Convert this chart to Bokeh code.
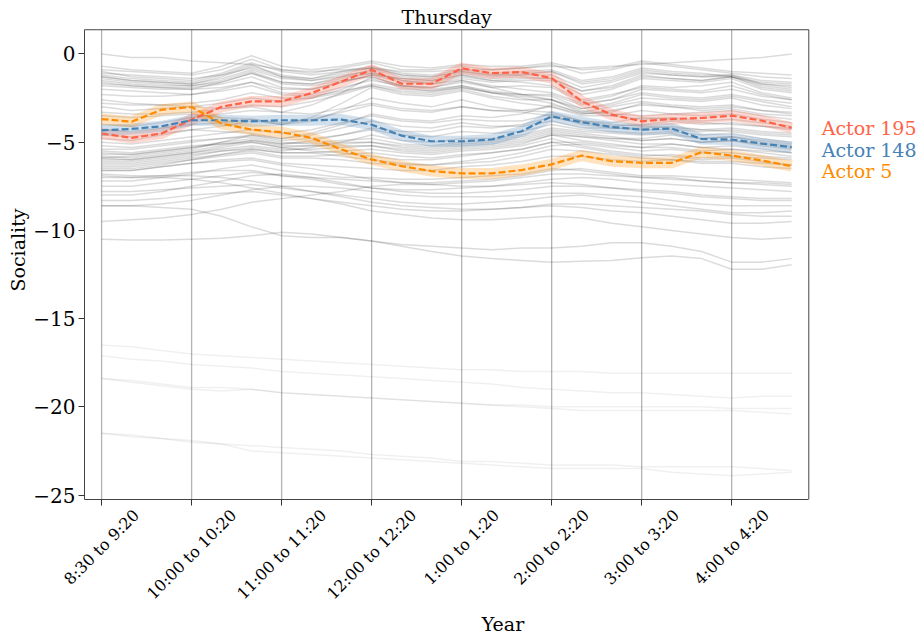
import math
from bokeh.plotting import figure
from bokeh.models import Range1d, FixedTicker, Label, LinearAxis
from bokeh.embed import file_html
from bokeh.resources import INLINE

# ---------------- data ----------------
slots = list(range(24))
tick_pos = [0, 3, 6, 9, 12, 15, 18, 21]
tick_labels = ["8:30 to 9:20", "10:00 to 10:20", "11:00 to 11:20", "12:00 to 12:20",
               "1:00 to 1:20", "2:00 to 2:20", "3:00 to 3:20", "4:00 to 4:20"]
y_ticks = [0, -5, -10, -15, -20, -25]
y_tick_labels = ["0", "−5", "−10", "−15", "−20", "−25"]

actor_names = ["Actor 195", "Actor 148", "Actor 5"]
actor_colors = ["#FF6347", "#4682B4", "#FF8C00"]
label_y = [-4.2, -5.45, -6.65]

actor_195 = [-4.51, -4.76, -4.51, -3.72, -3.0, -2.69, -2.69, -2.22, -1.56, -0.90, -1.69, -1.69,
             -0.81, -1.09, -1.03, -1.37, -2.69, -3.44, -3.82, -3.69, -3.63, -3.50, -3.78, -4.19]
actor_148 = [-4.33, -4.25, -4.10, -3.76, -3.76, -3.82, -3.76, -3.76, -3.72, -4.01, -4.63, -4.95,
             -4.95, -4.85, -4.38, -3.54, -3.87, -4.14, -4.29, -4.23, -4.82, -4.85, -5.08, -5.29]
actor_5 = [-3.69, -3.84, -3.16, -3.01, -3.95, -4.29, -4.44, -4.76, -5.42, -5.98, -6.36, -6.64,
           -6.77, -6.77, -6.58, -6.26, -5.76, -6.08, -6.17, -6.17, -5.57, -5.76, -6.04, -6.36]

upper_actors = [
    [-0.9,-1.0,-1.1,-1.2,-0.9,-0.3,-0.9,-1.1,-0.8,-0.5,-0.9,-0.9,-0.7,-0.9,-0.8,-0.6,-1.1,-0.9,-0.5,-0.7,-0.9,-1.1,-1.3,-1.4],
    [-1.2,-1.4,-1.5,-1.6,-1.2,-0.6,-1.3,-1.4,-1.0,-0.7,-1.1,-1.2,-0.9,-1.1,-1.0,-0.9,-1.5,-1.3,-0.8,-1.0,-1.1,-1.3,-1.6,-1.7],
    [-1.4,-1.6,-1.7,-1.8,-1.5,-1.0,-1.6,-1.7,-1.3,-0.9,-1.3,-1.4,-1.1,-1.3,-1.2,-1.2,-1.9,-1.6,-1.1,-1.2,-1.3,-1.3,-1.8,-2.0],
    [-0.7,-0.9,-1.0,-1.1,-0.7,-0.1,-0.7,-0.9,-0.7,-0.4,-0.7,-0.8,-0.6,-0.7,-0.7,-0.5,-0.9,-0.8,-0.4,-0.6,-0.8,-1.0,-1.1,-1.2],
    [-1.6,-1.8,-1.9,-1.9,-1.7,-1.3,-1.9,-2.0,-1.6,-1.2,-1.6,-1.7,-1.4,-1.6,-1.5,-1.5,-2.3,-2.0,-1.4,-1.5,-1.6,-1.4,-2.0,-2.2],
    [-1.0,-1.3,-1.4,-1.5,-1.1,-0.5,-1.0,-1.2,-1.0,-0.8,-1.2,-1.3,-1.0,-1.2,-1.2,-1.0,-1.6,-1.4,-0.9,-1.1,-1.2,-1.2,-1.5,-1.6],
    [-1.8,-1.9,-2.0,-2.0,-1.9,-1.6,-2.2,-2.3,-1.9,-1.5,-1.8,-1.9,-1.6,-1.9,-1.8,-1.9,-2.7,-2.4,-1.8,-1.9,-1.8,-1.6,-2.2,-2.5],
    [-1.3,-1.5,-1.6,-1.7,-1.4,-0.9,-1.4,-1.5,-1.2,-1.0,-1.5,-1.7,-1.5,-1.9,-2.3,-2.6,-3.3,-3.0,-2.7,-2.9,-3.0,-2.9,-3.2,-3.4],
    [0.0,-0.2,-0.2,-0.4,-0.5,-0.6,-0.9,-1.0,-0.9,-0.8,-1.0,-1.0,-0.9,-0.9,-0.8,-0.7,-0.8,-0.7,-0.6,-0.5,-0.4,-0.3,-0.2,0.0],
    [-2.3,-2.4,-2.4,-2.3,-2.0,-1.6,-2.0,-2.0,-1.6,-1.2,-1.4,-1.5,-1.2,-1.4,-1.3,-1.4,-2.1,-1.8,-1.2,-1.4,-1.5,-1.3,-1.7,-1.8],
    [-1.1,-1.2,-1.3,-1.4,-1.2,-0.8,-1.3,-1.5,-1.3,-1.1,-1.4,-1.5,-1.2,-1.5,-1.6,-1.8,-2.6,-2.3,-1.9,-2.0,-2.1,-1.8,-2.3,-2.6],
    [-1.5,-1.7,-1.8,-1.8,-1.6,-1.1,-1.7,-1.8,-1.5,-1.3,-1.8,-2.0,-1.8,-2.1,-2.3,-2.4,-3.1,-2.8,-2.3,-2.5,-2.6,-2.4,-2.7,-3.0],
    [-1.3,-1.5,-1.6,-1.7,-1.3,-0.7,-1.2,-1.4,-1.1,-0.8,-1.2,-1.3,-1.0,-1.2,-1.1,-1.0,-1.7,-1.5,-1.0,-1.2,-1.3,-1.2,-1.7,-1.9],
    [-1.7,-1.8,-1.9,-2.0,-1.6,-1.1,-1.6,-1.7,-1.4,-1.1,-1.5,-1.6,-1.3,-1.5,-1.4,-1.4,-2.1,-1.9,-1.3,-1.4,-1.5,-1.3,-1.9,-2.1],
    [-2.0,-2.1,-2.2,-2.3,-2.1,-1.8,-2.3,-2.4,-2.1,-1.8,-2.1,-2.2,-1.9,-2.2,-2.3,-2.3,-2.9,-2.6,-2.0,-2.1,-2.2,-2.0,-2.4,-2.6],
    [-3.3,-3.4,-3.4,-3.3,-3.1,-2.9,-3.0,-2.7,-2.3,-1.8,-2.2,-2.3,-2.0,-2.4,-2.6,-2.6,-3.1,-2.9,-2.5,-2.6,-2.7,-2.5,-2.9,-3.1],
    [-2.8,-2.9,-2.9,-2.8,-2.6,-2.2,-2.5,-2.5,-2.2,-1.7,-2.0,-2.1,-1.9,-2.2,-2.4,-2.6,-3.2,-3.4,-3.5,-3.4,-3.3,-3.2,-3.5,-3.7],
]

middle_actors = [
    [-3.0,-3.2,-3.1,-3.0,-2.8,-2.5,-2.7,-2.5,-2.0,-1.4,-1.9,-2.1,-1.8,-2.2,-2.5,-2.8,-3.4,-3.2,-2.9,-3.0,-3.1,-3.0,-3.2,-3.3],
    [-4.0,-4.1,-3.9,-3.6,-3.4,-3.2,-3.3,-2.9,-2.2,-1.3,-1.8,-1.9,-1.5,-1.8,-2.0,-2.2,-2.8,-2.6,-2.2,-2.4,-2.5,-2.3,-2.6,-2.8],
    [-2.6,-2.8,-2.9,-3.0,-3.1,-3.0,-3.3,-3.4,-3.1,-2.8,-3.1,-3.2,-3.0,-3.2,-3.2,-3.0,-3.4,-3.3,-2.8,-3.0,-3.2,-3.1,-3.4,-3.5],
    [-3.5,-3.6,-3.5,-3.4,-3.6,-3.7,-4.0,-3.8,-3.2,-2.5,-2.8,-3.0,-2.6,-3.0,-3.2,-3.3,-3.8,-3.9,-3.6,-3.7,-3.9,-4.0,-4.1,-4.2],
    [-4.8,-4.9,-4.6,-4.3,-4.1,-3.8,-4.0,-3.6,-2.8,-1.9,-2.3,-2.4,-2.1,-2.5,-2.8,-3.0,-3.5,-3.5,-3.2,-3.4,-3.5,-3.4,-3.7,-3.9],
    [-4.3,-4.4,-4.2,-4.0,-3.9,-3.7,-3.9,-3.7,-3.3,-2.9,-3.2,-3.3,-3.0,-3.2,-3.3,-3.5,-4.0,-4.2,-4.3,-4.3,-4.4,-4.3,-4.5,-4.6],
    [-5.0,-5.1,-4.9,-4.7,-4.5,-4.3,-4.5,-4.3,-3.9,-3.5,-3.8,-3.9,-3.7,-3.8,-3.8,-3.4,-3.8,-4.0,-4.1,-4.2,-4.3,-4.4,-4.6,-4.7],
    [-5.4,-5.4,-5.2,-5.0,-4.8,-4.6,-4.9,-4.8,-4.6,-4.3,-4.6,-4.7,-4.4,-4.5,-4.4,-4.0,-4.3,-4.4,-4.5,-4.4,-4.6,-4.5,-4.8,-5.0],
    [-5.7,-5.7,-5.5,-5.3,-5.0,-4.8,-5.1,-5.0,-4.9,-4.8,-5.1,-5.2,-5.0,-4.9,-4.7,-4.3,-4.5,-4.7,-4.9,-4.8,-5.0,-4.9,-5.1,-5.3],
    [-6.0,-6.0,-5.8,-5.6,-5.3,-5.0,-5.3,-5.2,-5.2,-5.2,-5.5,-5.6,-5.4,-5.3,-5.1,-4.6,-4.7,-4.9,-5.1,-5.1,-5.3,-5.2,-5.4,-5.6],
    [-6.2,-6.2,-6.0,-5.8,-5.5,-5.3,-5.5,-5.3,-5.0,-4.6,-4.9,-5.0,-4.8,-4.8,-4.6,-4.2,-4.4,-4.5,-4.6,-4.5,-4.8,-4.7,-5.0,-5.2],
    [-5.5,-5.6,-5.4,-5.2,-5.1,-5.0,-5.3,-5.5,-5.6,-5.8,-6.0,-6.0,-5.8,-5.6,-5.4,-5.0,-5.0,-5.2,-5.3,-5.1,-5.3,-5.4,-5.5,-5.6],
    [-6.4,-6.4,-6.2,-6.0,-5.8,-5.6,-5.9,-5.9,-6.0,-6.2,-6.3,-6.3,-6.1,-5.9,-5.6,-5.2,-5.1,-5.3,-5.5,-5.4,-5.6,-5.6,-5.8,-5.9],
    [-5.9,-5.8,-5.6,-5.4,-5.0,-4.6,-4.8,-4.5,-4.0,-3.4,-3.7,-3.8,-3.5,-3.6,-3.4,-2.9,-3.3,-3.5,-3.7,-3.6,-3.8,-3.7,-3.9,-4.1],
    [-6.1,-6.1,-5.9,-5.7,-5.5,-5.4,-5.6,-5.6,-5.5,-5.4,-5.6,-5.7,-5.5,-5.4,-5.2,-4.8,-5.2,-5.5,-5.7,-5.8,-6.0,-5.9,-6.1,-6.3],
    [-5.2,-5.3,-5.1,-4.9,-4.8,-4.7,-5.0,-5.1,-5.0,-5.0,-5.3,-5.4,-5.2,-5.1,-4.9,-4.5,-4.7,-4.8,-4.8,-4.6,-4.8,-4.7,-4.9,-5.1],
    [-6.6,-6.6,-6.4,-6.2,-6.0,-5.9,-6.2,-6.3,-6.4,-6.5,-6.6,-6.6,-6.4,-6.3,-6.1,-5.8,-5.8,-6.0,-6.1,-6.0,-6.2,-6.2,-6.4,-6.5],
    [-4.6,-4.7,-4.5,-4.3,-4.4,-4.5,-4.8,-4.6,-4.2,-3.8,-4.1,-4.2,-3.9,-4.1,-4.1,-3.8,-4.2,-4.2,-4.2,-4.1,-4.3,-4.2,-4.4,-4.5],
    [-5.9,-6.0,-5.8,-5.6,-5.4,-5.2,-5.4,-5.4,-5.3,-5.2,-5.4,-5.5,-5.3,-5.2,-5.0,-4.6,-4.9,-5.1,-5.3,-5.3,-5.5,-5.4,-5.6,-5.8],
    [-5.6,-5.7,-5.5,-5.3,-5.1,-4.9,-5.2,-5.2,-5.1,-5.0,-5.2,-5.3,-5.1,-5.0,-4.8,-4.4,-4.6,-4.8,-4.9,-4.8,-5.0,-4.9,-5.2,-5.4],
    [-6.3,-6.3,-6.1,-5.9,-5.7,-5.5,-5.8,-5.8,-5.7,-5.6,-5.8,-5.9,-5.7,-5.6,-5.4,-5.0,-5.3,-5.6,-5.8,-5.7,-5.9,-5.8,-5.9,-6.0],
    [-5.8,-5.9,-5.7,-5.5,-5.2,-4.9,-5.1,-4.9,-4.6,-4.2,-4.4,-4.4,-4.1,-4.2,-4.0,-3.6,-3.9,-4.1,-4.0,-3.8,-4.0,-3.9,-4.1,-4.3],
    [-6.5,-6.5,-6.3,-6.0,-5.7,-5.4,-5.6,-5.6,-5.8,-6.0,-6.2,-6.3,-6.2,-6.1,-5.8,-5.4,-5.5,-5.7,-5.9,-6.0,-6.1,-6.1,-6.2,-6.3],
]

lower_actors = [
    [-7.0,-7.0,-6.9,-6.7,-6.6,-6.6,-6.9,-7.0,-7.1,-7.2,-7.3,-7.3,-7.2,-7.1,-6.9,-6.6,-6.5,-6.7,-6.9,-6.9,-7.0,-7.1,-7.2,-7.3],
    [-7.5,-7.5,-7.3,-7.1,-6.9,-6.7,-6.9,-7.1,-7.4,-7.6,-7.7,-7.7,-7.6,-7.5,-7.3,-7.1,-7.0,-7.1,-7.3,-7.4,-7.5,-7.6,-7.7,-7.8],
    [-8.0,-8.0,-7.8,-7.5,-7.2,-6.9,-6.8,-7.0,-7.3,-7.6,-7.8,-7.9,-7.9,-7.8,-7.7,-7.5,-7.5,-7.6,-7.7,-7.8,-8.0,-8.1,-8.2,-8.2],
    [-8.6,-8.6,-8.5,-8.3,-8.0,-7.7,-7.5,-7.5,-7.6,-7.8,-8.0,-8.1,-8.1,-8.1,-8.0,-7.9,-7.9,-8.0,-8.1,-8.3,-8.5,-8.6,-8.6,-8.6],
    [-6.8,-6.9,-6.9,-6.9,-7.0,-7.2,-7.5,-7.8,-8.1,-8.4,-8.6,-8.7,-8.8,-8.8,-8.7,-8.6,-8.7,-8.9,-9.0,-9.2,-9.4,-9.6,-9.6,-9.5],
    [-7.8,-7.8,-7.7,-7.6,-7.5,-7.4,-7.6,-7.8,-8.0,-8.2,-8.4,-8.5,-8.5,-8.4,-8.3,-8.1,-8.0,-8.2,-8.4,-8.6,-8.8,-9.0,-9.0,-8.9],
    [-6.6,-6.6,-6.4,-6.2,-6.1,-6.0,-6.3,-6.5,-6.8,-7.1,-7.3,-7.4,-7.3,-7.2,-7.0,-6.8,-6.8,-6.9,-7.0,-7.0,-7.2,-7.3,-7.4,-7.5],
    [-9.5,-9.4,-9.3,-9.1,-8.8,-8.4,-8.2,-8.0,-7.8,-7.5,-7.4,-7.4,-7.5,-7.5,-7.4,-7.3,-7.4,-7.6,-7.8,-7.9,-8.1,-8.2,-8.3,-8.3],
    [-10.5,-10.55,-10.55,-10.5,-10.45,-10.3,-10.1,-10.2,-10.4,-10.6,-10.9,-11.2,-11.45,-11.6,-11.7,-11.8,-11.75,-11.7,-11.55,-11.45,-11.6,-12.2,-12.2,-11.95],
    [-8.6,-8.6,-8.7,-8.8,-9.2,-9.8,-10.3,-10.4,-10.4,-10.6,-10.8,-10.9,-11.0,-11.1,-11.0,-11.0,-10.9,-10.7,-10.7,-10.9,-11.2,-11.8,-11.8,-11.6],
    [-7.2,-7.2,-7.0,-6.8,-6.5,-6.3,-6.6,-6.8,-7.0,-7.0,-7.1,-7.1,-7.0,-6.9,-6.8,-6.5,-6.6,-6.8,-7.0,-7.1,-7.2,-7.3,-7.3,-7.4],
    [-8.3,-8.3,-8.2,-8.0,-7.9,-7.8,-8.0,-8.2,-8.4,-8.6,-8.8,-8.9,-8.9,-8.8,-8.7,-8.5,-8.5,-8.6,-8.7,-8.8,-8.9,-9.1,-9.2,-9.2],
    [-6.9,-7.0,-7.0,-7.1,-7.3,-7.6,-7.9,-8.2,-8.5,-8.9,-9.1,-9.3,-9.4,-9.4,-9.3,-9.2,-9.3,-9.6,-9.8,-10.0,-10.2,-10.4,-10.5,-10.4],
]

far_actors = [
    [-16.5,-16.6,-16.8,-17.0,-17.1,-17.2,-17.3,-17.4,-17.5,-17.6,-17.7,-17.8,-17.9,-17.9,-18.0,-18.0,-18.0,-18.1,-18.1,-18.1,-18.1,-18.1,-18.1,-18.1],
    [-17.1,-17.3,-17.4,-17.6,-17.7,-17.8,-18.0,-18.1,-18.2,-18.3,-18.4,-18.5,-18.6,-18.7,-18.9,-19.0,-19.1,-19.2,-19.2,-19.3,-19.4,-19.5,-19.4,-19.4],
    [-18.4,-18.5,-18.7,-18.9,-18.9,-19.0,-19.2,-19.3,-19.4,-19.5,-19.6,-19.7,-19.8,-19.9,-19.9,-20.0,-20.0,-20.0,-20.0,-20.0,-20.0,-20.1,-20.1,-20.1],
    [-18.4,-18.6,-18.8,-19.0,-19.1,-19.0,-19.2,-19.3,-19.4,-19.5,-19.6,-19.7,-19.8,-19.9,-20.0,-20.1,-20.2,-20.2,-20.2,-20.2,-20.2,-20.2,-20.3,-20.4],
    [-21.5,-21.7,-21.8,-22.0,-22.1,-22.5,-22.6,-22.7,-22.8,-22.9,-23.0,-23.1,-23.2,-23.3,-23.4,-23.5,-23.5,-23.5,-23.5,-23.7,-23.8,-23.9,-23.8,-23.7],
    [-21.5,-21.6,-21.8,-21.9,-22.1,-22.2,-22.3,-22.4,-22.5,-22.7,-22.8,-22.9,-23.1,-23.1,-23.2,-23.3,-23.3,-23.3,-23.4,-23.4,-23.4,-23.4,-23.5,-23.6],
]

# ---------------- geometry / style ----------------
FONT = "DejaVu Serif"
W, H = 921, 637
FRAME_LEFT, FRAME_TOP_AXES, FRAME_BOTTOM = 84, 29.3, 500
X0, X1 = -0.57, 23.57          # visible axes box in data units
Y0, Y1 = -25.25, 1.37
PX_X = (808.3 - FRAME_LEFT) / (X1 - X0)
PX_Y = (FRAME_BOTTOM - FRAME_TOP_AXES) / (Y1 - Y0)
X_END = X0 + (W - FRAME_LEFT) / PX_X       # frame extended right for the actor labels
Y_END = Y1 + FRAME_TOP_AXES / PX_Y          # frame extended up for the title

p = figure(width=W, height=H, x_range=Range1d(X0, X_END), y_range=Range1d(Y0, Y_END),
           output_backend="svg", toolbar_location=None,
           min_border_left=FRAME_LEFT, min_border_right=0, min_border_top=0,
           min_border_bottom=H - FRAME_BOTTOM)
p.outline_line_color = None
p.background_fill_color = "white"
p.border_fill_color = "white"
p.xgrid.grid_line_color = None
p.ygrid.grid_line_color = None

# x axis carrying tick marks (bottom spine)
xa = p.xaxis[0]
xa.ticker = FixedTicker(ticks=tick_pos)
xa.major_label_overrides = {t: "" for t in tick_pos}
xa.major_label_text_font_size = "1px"
xa.major_label_standoff = 0
xa.bounds = (X0, X1)
xa.axis_line_color = "#444444"
xa.major_tick_line_color = "#333333"
xa.major_tick_in = 0
xa.major_tick_out = 6
xa.minor_tick_line_color = None

# rotated tick labels, centred under each tick like the original
char_w = {" ": 651, ":": 690, "t": 823, "o": 1233}
TICK_PX = 16
label_pos = []
for pos, lab in zip(tick_pos, tick_labels):
    w = sum(char_w.get(ch, 1303) for ch in lab) / 2048 * TICK_PX
    label_pos.append(round(pos + 0.3535 * w / PX_X, 3))
xl = LinearAxis(ticker=FixedTicker(ticks=label_pos),
                major_label_overrides=dict(zip(label_pos, tick_labels)),
                major_label_orientation=math.pi / 4,
                major_label_text_font=FONT, major_label_text_font_size=f"{TICK_PX}px",
                major_label_text_color="black", major_label_standoff=1,
                axis_line_color=None, major_tick_line_color=None, minor_tick_line_color=None,
                axis_label="Year", axis_label_text_font=FONT, axis_label_text_font_size="19px",
                axis_label_text_font_style="normal", axis_label_text_color="black",
                axis_label_standoff=0)
p.add_layout(xl, "below")

ya = p.yaxis[0]
ya.ticker = FixedTicker(ticks=y_ticks)
ya.major_label_overrides = dict(zip(y_ticks, y_tick_labels))
ya.bounds = (Y0, Y1)
ya.axis_label = "Sociality"
ya.axis_label_text_font = FONT
ya.axis_label_text_font_size = "19px"
ya.axis_label_text_font_style = "normal"
ya.axis_label_text_color = "black"
ya.axis_label_standoff = 1
ya.major_label_text_font = FONT
ya.major_label_text_font_size = "20px"
ya.major_label_text_color = "black"
ya.major_label_standoff = 3
ya.axis_line_color = "#444444"
ya.major_tick_line_color = "#333333"
ya.major_tick_in = 0
ya.major_tick_out = 6
ya.minor_tick_line_color = None

# vertical grid lines at the ticks, limited to the axes box
p.segment(x0=tick_pos, y0=[Y0] * len(tick_pos), x1=tick_pos, y1=[Y1] * len(tick_pos),
          line_color="#b4b4b4", line_width=1.3)

# background actors
bg = upper_actors + middle_actors + lower_actors
p.multi_line(xs=[slots] * len(bg), ys=bg, line_color="black", line_alpha=0.14, line_width=1.5)
p.multi_line(xs=[slots] * len(far_actors), ys=far_actors, line_color="black", line_alpha=0.06, line_width=1.5)

# highlighted actors
series = [actor_195, actor_148, actor_5]
for ys, c in zip(series, actor_colors):
    p.line(slots, ys, line_color=c, line_width=11, line_alpha=0.25, line_join="round")
for ys, c in zip(series, actor_colors):
    p.line(slots, ys, line_color=c, line_width=2.2, line_dash="7 3")

# top and right spines of the axes box
p.line([X0, X1, X1], [Y1, Y1, Y0], line_color="#444444", line_width=1)

for name, c, ly in zip(actor_names, actor_colors, label_y):
    p.add_layout(Label(x=slots[-1] + 1, y=ly, text=name, text_color=c, text_font=FONT,
                       text_font_size="19px", text_align="left", text_baseline="middle"))

p.add_layout(Label(x=(X0 + X1) / 2, y=Y1 + 12.3 / PX_Y, text="Thursday", text_font=FONT,
                   text_font_size="19px", text_color="black", text_align="center",
                   text_baseline="middle"))

open("out.html", "w").write(file_html(p, INLINE))
